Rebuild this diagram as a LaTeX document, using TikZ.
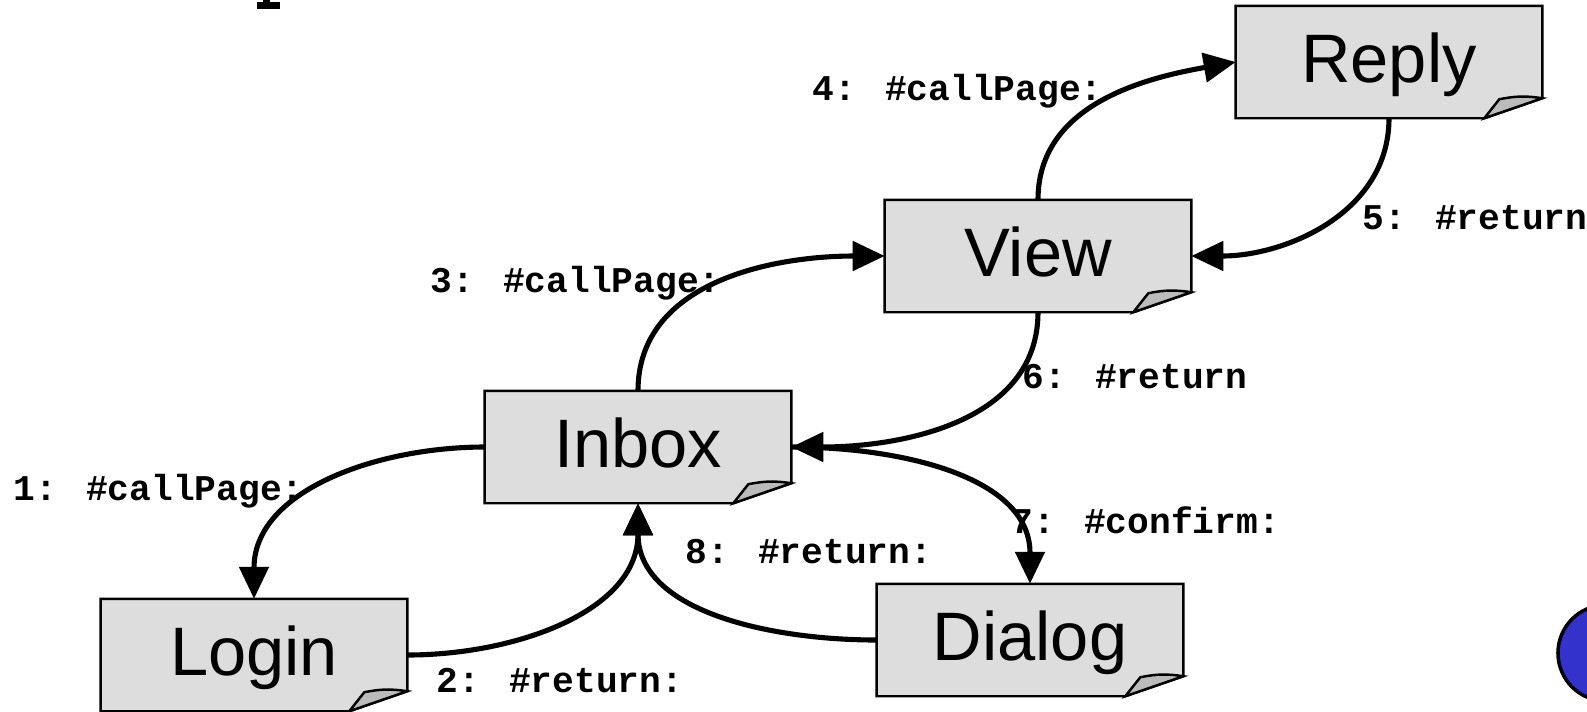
\documentclass[tikz,border=0pt]{standalone}
\usepackage{fontspec}
\setmainfont{Liberation Sans}
\newfontfamily\codefont{Liberation Mono}
\usetikzlibrary{arrows.meta,backgrounds,calc}

\definecolor{pagegray}{HTML}{DDDDDD}
\definecolor{foldgray}{HTML}{BBBBBB}
\definecolor{logoblue}{HTML}{3333CC}

\tikzset{
  page/.style={rectangle, minimum width=3.05cm, minimum height=1.11cm, inner sep=0pt,
    text height=0.49cm, text depth=0.08cm, font=\fontsize{19.5}{20}\selectfont},
  lbl/.style={anchor=west, inner sep=0pt, text height=0.2cm, text depth=0pt,
    font=\codefont\bfseries\fontsize{10.3}{11}\selectfont},
  flow/.style={line width=1.45pt, ->},
}

\begin{document}
\begin{tikzpicture}[x=0.01cm, y=-0.01cm, >={Triangle[length=0.32cm,width=0.29cm]}]
    \useasboundingbox (0,0) rectangle (1587,711);

    \draw(1389,62) node[page] (reply) {Reply};
    \draw(1038,256) node[page] (view) {View};
    \draw(638,447) node[page] (inbox) {Inbox};
    \draw(1030,640) node[page] (dialog) {Dialog};
    \draw(254,655) node[page] (login) {Login};

    \begin{scope}[on background layer]
    \foreach \n in {reply,view,inbox,dialog,login} {
        \filldraw[fill=pagegray, line width=0.7pt] (\n.north west) -- (\n.north east)
            -- ($(\n.south east)+(0,-20)$) -- ($(\n.south east)+(-58,0)$) -- (\n.south west) -- cycle;
        \filldraw[fill=foldgray, line width=0.7pt] ($(\n.south east)+(-58,0)$)
            -- ($(\n.south east)+(-43,-19)$) to[bend left=10] ($(\n.south east)+(0,-20)$) -- cycle;
    }
    \end{scope}

    \draw[flow] (inbox.west) to[out=180, in=90] (login.north);
    \draw[flow] (login.east) to[out=0, in=-90] (inbox.south);
    \draw[flow] (inbox.north) to[out=90, in=180] (view.west);
    \draw[flow] (view.north) to[out=90, in=190] (reply.west);
    \draw[flow] (reply.south) to[out=-90, in=0] (view.east);
    \draw[flow] (view.south) to[out=-90, in=0] (inbox.east);
    \draw[flow] (inbox.east) to[out=0, in=90] (dialog.north);
    \draw[flow] (dialog.west) to[out=180, in=-90] (inbox.south);

    \draw(13,490) node[lbl] (l1) {1: \#callPage:};
    \draw(436,682) node[lbl] (l2) {2: \#return:};
    \draw(430,282) node[lbl] (l3) {3: \#callPage:};
    \draw(812,90) node[lbl] (l4) {4: \#callPage:};
    \draw(1362,219) node[lbl] (l5) {5: \#return};
    \draw(1022,378) node[lbl] (l6) {6: \#return};
    \draw(1011,523) node[lbl] (l7) {7: \#confirm:};
    \draw(685,553) node[lbl] (l8) {8: \#return:};

    \filldraw[fill=logoblue, line width=1pt] (1606,653) circle (0.48cm);
    \fill (257,2) rectangle (280,9);
    \fill (263,0) rectangle (270,2);

\end{tikzpicture}
\end{document}
